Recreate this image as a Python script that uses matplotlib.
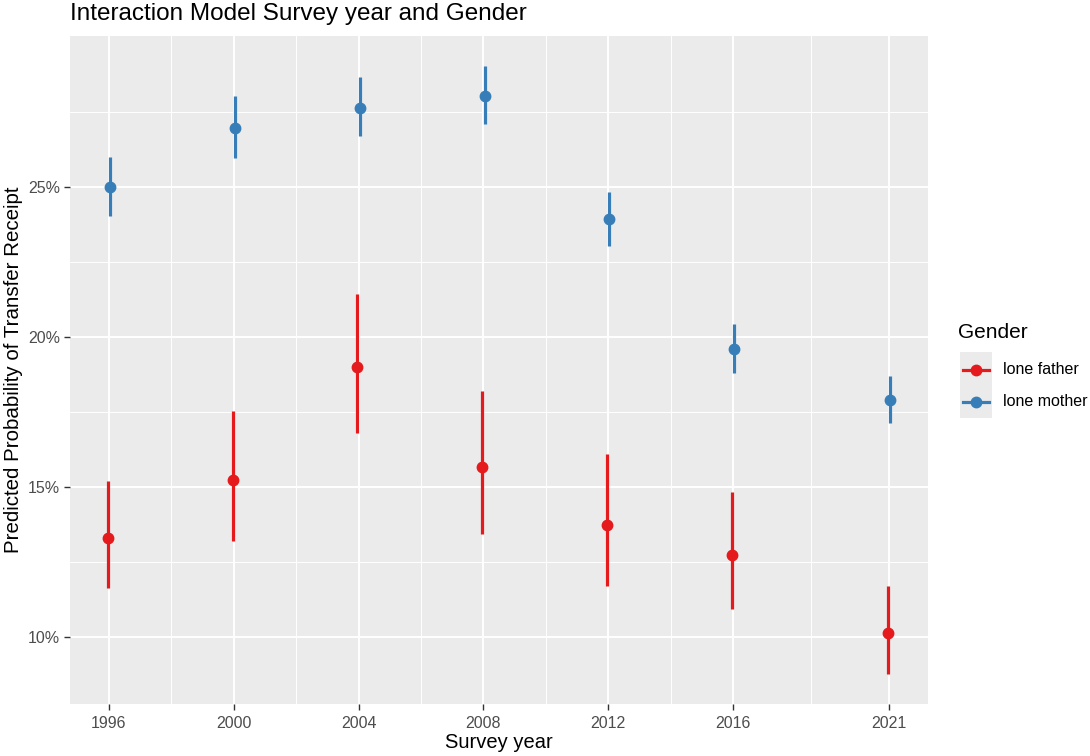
import numpy as np
import matplotlib.pyplot as plt
import matplotlib as mpl
from matplotlib.lines import Line2D
from matplotlib.patches import Rectangle
from matplotlib.ticker import FuncFormatter

mpl.rcParams['font.family'] = ['Liberation Sans', 'DejaVu Sans']

# Data (predicted probability, %)
years = [1996, 2000, 2004, 2008, 2012, 2016, 2021]

father_est = [13.30, 15.22, 18.99, 15.65, 13.72, 12.71, 10.13]
father_lo = [11.63, 13.18, 16.81, 13.42, 11.69, 10.91, 8.77]
father_hi = [15.19, 17.53, 21.42, 18.19, 16.08, 14.83, 11.68]

mother_est = [25.00, 26.96, 27.64, 28.03, 23.92, 19.60, 17.91]
mother_lo = [24.03, 25.97, 26.69, 27.09, 23.04, 18.81, 17.14]
mother_hi = [26.01, 28.03, 28.67, 29.02, 24.84, 20.43, 18.68]

groups = ['lone father', 'lone mother']
colors = ['#E41A1C', '#377EB8']

W, H = 1090, 756
fig = plt.figure(figsize=(W / 100, H / 100), dpi=100)
ax = fig.add_axes([70 / W, 1 - 704 / H, (928 - 70) / W, (704 - 36) / H])
ax.set_facecolor('#EBEBEB')
for s in ax.spines.values():
    s.set_visible(False)

# small dodge between the two groups
series = [(father_est, father_lo, father_hi), (mother_est, mother_lo, mother_hi)]
offsets = [-0.04, 0.04]
for (est, lo, hi), col, off, lab in zip(series, colors, offsets, groups):
    x = np.array(years) + off
    est = np.array(est)
    yerr = [est - np.array(lo), np.array(hi) - est]
    ax.errorbar(x, est, yerr=yerr, fmt='o', color=col, ecolor=col, elinewidth=2.3,
                markersize=7.5, capsize=0, label=lab, zorder=3)

# axes limits (ggplot style 5% expansion)
xlo, xhi = min(years), max(years)
ax.set_xlim(xlo - 0.05 * (xhi - xlo), xhi + 0.05 * (xhi - xlo))
ylo, yhi = min(father_lo), max(mother_hi)
ax.set_ylim(ylo - 0.05 * (yhi - ylo), yhi + 0.05 * (yhi - ylo))

ax.set_xticks(years)
ax.set_xticks([1998, 2002, 2006, 2010, 2014, 2018.5], minor=True)
ax.set_yticks([10, 15, 20, 25])
ax.set_yticks([12.5, 17.5, 22.5, 27.5], minor=True)
ax.yaxis.set_major_formatter(FuncFormatter(lambda v, p: '%d%%' % v))

ax.grid(True, which='major', color='white', linewidth=1.4, zorder=0)
ax.grid(True, which='minor', color='white', linewidth=0.7, zorder=0)
ax.set_axisbelow(True)

ax.tick_params(which='major', direction='out', length=4, width=1, color='#333333',
               labelsize=11.5, labelcolor='#4D4D4D', pad=3)
ax.tick_params(axis='x', which='major', pad=5)
ax.tick_params(which='minor', length=0)

ax.set_xlabel('Survey year', fontsize=14.5, color='black', labelpad=1)
ax.set_ylabel('Predicted Probability of Transfer Receipt', fontsize=14.8, color='black', labelpad=4)
fig.text(70 / W, 1 - 14 / H, 'Interaction Model Survey year and Gender', fontsize=17.5,
         ha='left', va='center')

# legend drawn by hand, ggplot layout
fig.text(958 / W, 1 - 333 / H, 'Gender', fontsize=15, ha='left', va='center')
fig.patches.append(Rectangle((960 / W, 1 - 418 / H), 32 / W, 66 / H,
                             transform=fig.transFigure, facecolor='#EBEBEB', edgecolor='none'))
for i, (col, lab) in enumerate(zip(colors, groups)):
    yy = 1 - (370 + 32 * i) / H
    fig.add_artist(Line2D([963 / W, 989 / W], [yy, yy], transform=fig.transFigure,
                          color=col, linewidth=2.3))
    fig.add_artist(Line2D([976 / W], [yy], transform=fig.transFigure, color=col,
                          marker='o', markersize=7.5, linestyle='none'))
    fig.text(1003 / W, yy, lab, fontsize=11.5, ha='left', va='center')

fig.savefig('out.png', dpi=100)
